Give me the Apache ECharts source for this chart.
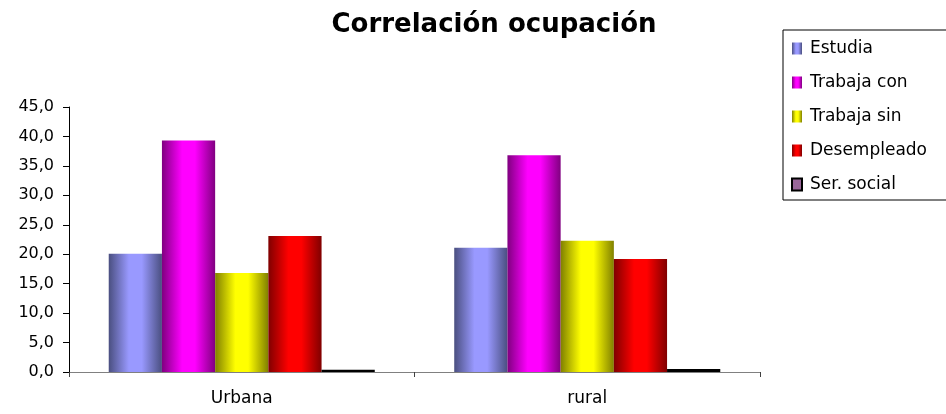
<!DOCTYPE html>
<html><head><meta charset="utf-8">
<script src="https://cdn.jsdelivr.net/npm/echarts@6/dist/echarts.min.js"></script>
<style>html,body{margin:0;padding:0;background:#fff}#c{width:946px;height:414px}</style>
</head><body><div id="c"></div>
<script>
const categories = ['Urbana', 'rural'];
const estudia = [20.1, 21.1];
const trabajaCon = [39.3, 36.8];
const trabajaSin = [16.8, 22.3];
const desempleado = [23.1, 19.2];
const serSocial = [0.4, 0.5];
const yTicks = { min: 0, max: 45, interval: 5 };

function grad(dark, light) {
  return new echarts.graphic.LinearGradient(0, 0, 1, 0, [
    { offset: 0, color: dark },
    { offset: 0.38, color: light },
    { offset: 0.62, color: light },
    { offset: 1, color: dark }
  ]);
}
const font = 'DejaVu Sans, Arial, sans-serif';
function bar(name, data, style) {
  return { name, type: 'bar', data, barGap: '0%', barCategoryGap: '23%', itemStyle: style };
}
const chart = echarts.init(document.getElementById('c'));
chart.setOption({
  animation: false,
  title: { text: 'Correlación ocupación', left: 489, top: 7, textAlign: 'center',
    textStyle: { fontFamily: font, fontSize: 26, fontWeight: 'bold', color: '#000' } },
  legend: {
    left: 783, top: 30, orient: 'vertical', itemGap: 17, itemWidth: 10, itemHeight: 12,
    icon: 'rect',
    padding: [10, 40, 7, 8], borderColor: '#000', borderWidth: 1,
    textStyle: { fontFamily: font, fontSize: 17, color: '#000', padding: [0, 0, 0, 3] },
    data: ['Estudia', 'Trabaja con', 'Trabaja sin', 'Desempleado', 'Ser. social']
  },
  grid: { left: 69, right: 186, top: 107, bottom: 42, containLabel: false },
  xAxis: {
    type: 'category', data: categories,
    axisLine: { lineStyle: { color: '#808080', width: 1 } },
    axisTick: { show: true, length: 5, lineStyle: { color: '#404040' } },
    axisLabel: { fontFamily: font, fontSize: 17, color: '#000', margin: 18 }
  },
  yAxis: {
    type: 'value', min: yTicks.min, max: yTicks.max, interval: yTicks.interval,
    axisLine: { show: true, lineStyle: { color: '#000' } },
    axisTick: { show: true, length: 6, lineStyle: { color: '#000' } },
    splitLine: { show: false },
    axisLabel: { fontFamily: font, fontSize: 16, color: '#000', margin: 15,
      formatter: v => v.toFixed(1).replace('.', ',') }
  },
  series: [
    bar('Estudia', estudia, { color: grad('#4a4f80', '#9999ff') }),
    bar('Trabaja con', trabajaCon, { color: grad('#800080', '#ff00ff') }),
    bar('Trabaja sin', trabajaSin, { color: grad('#808000', '#ffff00') }),
    bar('Desempleado', desempleado, { color: grad('#800000', '#ff0000') }),
    bar('Ser. social', serSocial, { color: '#996699', borderColor: '#000', borderWidth: 1.5 })
  ]
});
</script></body></html>
